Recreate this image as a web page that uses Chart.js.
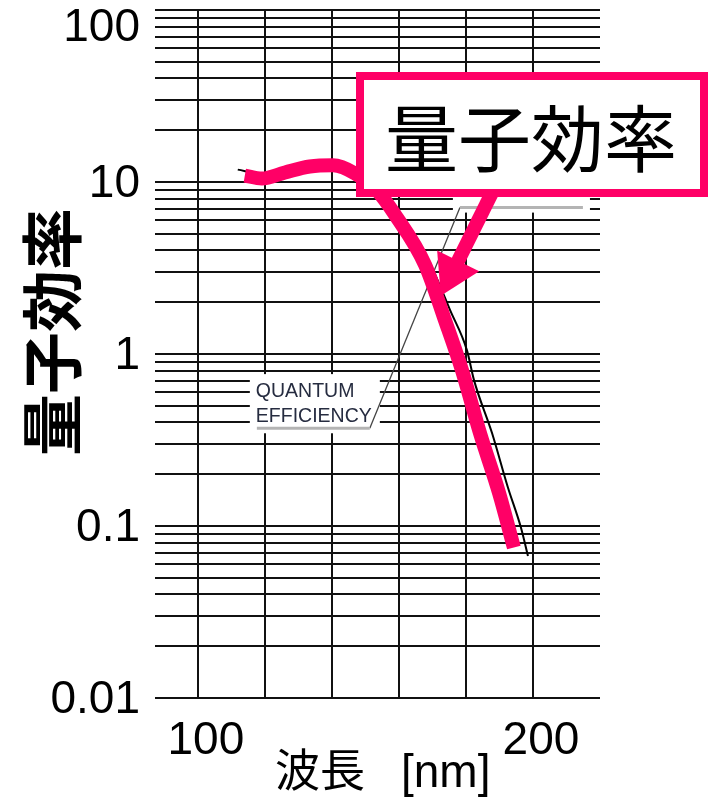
<!DOCTYPE html>
<html>
<head>
<meta charset="utf-8">
<script src="https://cdn.jsdelivr.net/npm/chart.js@4/dist/chart.umd.min.js"></script>
<style>
  html, body { margin: 0; padding: 0; background: #fff; }
  #wrap { width: 710px; height: 799px; }
</style>
</head>
<body>
<div id="wrap"><canvas id="c" width="710" height="799"></canvas></div>
<script>
// Photocathode quantum efficiency [%] vs. wavelength [nm]
const wavelengthNm = [111.9, 118.5, 127.5, 136.4, 143.9, 151.9, 158.2, 163.9, 169.9, 175.2, 180.3, 182.4, 187.8, 192.5, 196.4, 198.5];
const quantumEff   = [11.8, 11.2, 12.1, 13.0, 12.5, 9.67, 7.39, 5.15, 3.17, 1.81, 1.05, 0.705, 0.346, 0.168, 0.098, 0.067];

// Highlighted trace drawn over the published curve
const highlightNm  = [114.0, 119.1, 126.0, 133.4, 140.3, 146.9, 153.7, 158.8, 167.8, 173.7, 178.8, 184.2, 189.9, 194.3];
const highlightEff = [10.9, 10.48, 11.36, 12.3, 12.5, 11.2, 8.8, 6.46, 3.30, 1.58, 0.806, 0.346, 0.155, 0.075];

// Axis ticks
const xGridValues  = [100, 120, 140, 160, 180, 200];
const xTickLabels  = { 100: '100', 200: '200' };
const yDecades     = [0.01, 0.1, 1, 10, 100];
const yDecadeLabels = ['0.01', '0.1', '1', '10', '100'];
const yMantissas   = [1, 2, 3, 4, 5, 6, 7, 8, 9];

// Texts
const yAxisTitle  = '量子効率';
const xAxisTitle  = ['波長', '[nm]'];
const calloutText = '量子効率';
const curveLabel  = ['QUANTUM', 'EFFICIENCY'];

const LATIN = "'Liberation Sans', Arial, sans-serif";
const CJK = "'Noto Sans CJK JP', sans-serif";
const PINK = '#ff0066';

// Annotation anchors, in data units
const notes = {
  labelBox:   { x0: 115.5, x1: 154.3, y0: 0.764, y1: 0.346 },
  labelText:  { x: 117.3, y: [0.561, 0.401] },
  underline:  { x0: 117.6, x1: 151.3, y: 0.370 },
  leader:     { x0: 151.3, y0: 0.370, x1: 178.2, y1: 7.10, x2: 214.9 },
  hiddenBox:  { x0: 176.1, x1: 217.0, y0: 9.04, y1: 6.64 },
  arrow:      { fromX: 187.2, fromY: 8.23, toX: 172.5, toY: 2.18 }
};

const decor = {
  id: 'decor',
  beforeDatasetsDraw(chart) {
    const { ctx, scales: { x, y } } = chart;
    const px = v => x.getPixelForValue(v), py = v => y.getPixelForValue(v);
    ctx.save();
    // white backing for the curve labels
    ctx.fillStyle = '#fff';
    let b = notes.labelBox;
    ctx.fillRect(px(b.x0), py(b.y0), px(b.x1) - px(b.x0), py(b.y1) - py(b.y0));
    b = notes.hiddenBox;
    ctx.fillRect(px(b.x0), py(b.y0), px(b.x1) - px(b.x0), py(b.y1) - py(b.y0));
    // leader line
    const l = notes.leader;
    ctx.strokeStyle = '#444';
    ctx.lineWidth = 1.3;
    ctx.beginPath();
    ctx.moveTo(px(l.x0), py(l.y0));
    ctx.lineTo(px(l.x1), py(l.y1));
    ctx.stroke();
    ctx.strokeStyle = '#b4b4b4';
    ctx.lineWidth = 3;
    ctx.beginPath();
    ctx.moveTo(px(l.x1), py(l.y1));
    ctx.lineTo(px(l.x2), py(l.y1));
    ctx.stroke();
    const u = notes.underline;
    ctx.beginPath();
    ctx.moveTo(px(u.x0), py(u.y));
    ctx.lineTo(px(u.x1), py(u.y));
    ctx.stroke();
    // label text
    ctx.fillStyle = '#262c40';
    ctx.font = `19.5px ${LATIN}`;
    ctx.textAlign = 'left';
    ctx.textBaseline = 'alphabetic';
    curveLabel.forEach((t, i) => ctx.fillText(t, px(notes.labelText.x), py(notes.labelText.y[i])));
    ctx.restore();
  },
  afterDraw(chart) {
    const { ctx, chartArea, scales: { x, y } } = chart;
    const px = v => x.getPixelForValue(v), py = v => y.getPixelForValue(v);
    ctx.save();

    // arrow from the callout to the curve
    const a = notes.arrow;
    const x0 = px(a.fromX), y0 = py(a.fromY), x1 = px(a.toX), y1 = py(a.toY);
    const len = Math.hypot(x1 - x0, y1 - y0);
    const ux = (x1 - x0) / len, uy = (y1 - y0) / len;
    const headLen = 39, headHalf = 23.5;
    const bx = x1 - ux * headLen, by = y1 - uy * headLen;
    ctx.strokeStyle = PINK;
    ctx.fillStyle = PINK;
    ctx.lineWidth = 14;
    ctx.beginPath();
    ctx.moveTo(x0 - ux * 6, y0 - uy * 6);
    ctx.lineTo(bx + ux * 4, by + uy * 4);
    ctx.stroke();
    ctx.beginPath();
    ctx.moveTo(x1, y1);
    ctx.lineTo(bx - uy * headHalf, by + ux * headHalf);
    ctx.lineTo(bx + uy * headHalf, by - ux * headHalf);
    ctx.closePath();
    ctx.fill();

    // callout box
    ctx.fillStyle = '#fff';
    ctx.fillRect(360, 76, 344, 117);
    ctx.strokeStyle = PINK;
    ctx.lineWidth = 8;
    ctx.strokeRect(360, 76, 344, 117);
    ctx.fillStyle = '#000';
    ctx.font = `73px ${CJK}`;
    ctx.textAlign = 'center';
    ctx.textBaseline = 'middle';
    ctx.fillText(calloutText, 531, 138);

    // y tick labels (decades)
    ctx.font = `46px ${LATIN}`;
    ctx.textAlign = 'right';
    ctx.textBaseline = 'middle';
    ctx.fillStyle = '#000';
    yDecades.forEach((v, i) => {
      const yy = Math.max(py(v) + 2, 28);
      ctx.fillText(yDecadeLabels[i], chartArea.left - 15, yy);
    });

    // y axis title
    ctx.save();
    ctx.translate(52, 332);
    ctx.rotate(-Math.PI / 2);
    ctx.font = `bold 62px ${CJK}`;
    ctx.textAlign = 'center';
    ctx.textBaseline = 'middle';
    ctx.fillText(yAxisTitle, 0, 0);
    ctx.restore();

    // x axis title
    ctx.textAlign = 'left';
    ctx.textBaseline = 'middle';
    ctx.font = `45px ${CJK}`;
    ctx.fillText(xAxisTitle[0], 275, 770);
    ctx.font = `46px ${LATIN}`;
    ctx.fillText(xAxisTitle[1], 401, 774);

    ctx.restore();
  }
};

new Chart(document.getElementById('c'), {
  type: 'line',
  data: {
    datasets: [
      {
        data: highlightNm.map((v, i) => ({ x: v, y: highlightEff[i] })),
        borderColor: PINK,
        borderWidth: 14,
        borderCapStyle: 'butt',
        borderJoinStyle: 'round',
        pointRadius: 0,
        cubicInterpolationMode: 'monotone',
        order: 1
      },
      {
        data: wavelengthNm.map((v, i) => ({ x: v, y: quantumEff[i] })),
        borderColor: '#000',
        borderWidth: 2,
        pointRadius: 0,
        cubicInterpolationMode: 'monotone',
        order: 2
      }
    ]
  },
  options: {
    responsive: false,
    animation: false,
    devicePixelRatio: 1,
    layout: { padding: { top: 10, right: 110, left: 0, bottom: 0 } },
    plugins: { legend: { display: false }, tooltip: { enabled: false } },
    scales: {
      x: {
        type: 'linear',
        min: 87.2,
        max: 220,
        afterBuildTicks: s => { s.ticks = xGridValues.map(v => ({ value: v })); },
        afterFit: s => { s.height = 101; },
        border: { display: false },
        grid: { color: '#111', lineWidth: 2, drawTicks: false },
        ticks: {
          autoSkip: false,
          maxRotation: 0,
          labelOffset: 8,
          padding: 16,
          color: '#000',
          font: { family: LATIN, size: 46 },
          callback: v => xTickLabels[v] ?? ''
        }
      },
      y: {
        type: 'logarithmic',
        min: 0.01,
        max: 100,
        afterBuildTicks: s => {
          const t = [];
          yDecades.slice(0, -1).forEach(d => yMantissas.forEach(m => t.push({ value: +(d * m).toPrecision(3) })));
          t.push({ value: yDecades[yDecades.length - 1] });
          s.ticks = t;
        },
        afterFit: s => { s.width = 155; },
        border: { display: false },
        grid: { color: '#111', lineWidth: 2, drawTicks: false },
        ticks: { display: false }
      }
    }
  },
  plugins: [decor]
});
</script>
</body>
</html>
